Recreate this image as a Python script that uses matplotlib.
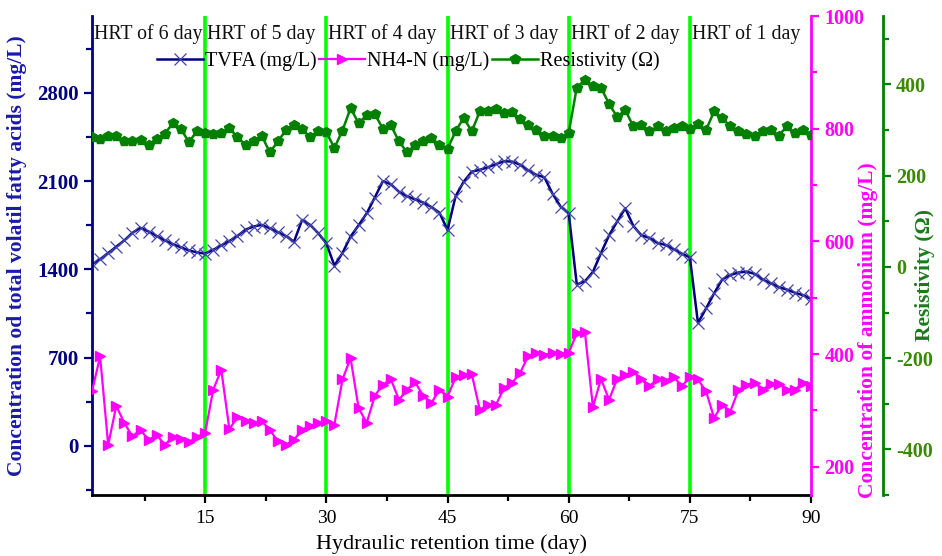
import matplotlib
matplotlib.use('Agg')
import matplotlib.pyplot as plt
from matplotlib.ticker import MultipleLocator

plt.rcParams['font.family'] = ['Liberation Serif', 'DejaVu Serif']
plt.rcParams['axes.unicode_minus'] = False

# hydraulic retention time (day)
days = list(range(1, 91))

tvfa = [1440, 1480, 1530, 1580, 1630, 1690, 1730, 1700, 1665, 1630,
        1600, 1575, 1550, 1535, 1525, 1555, 1590, 1625, 1665, 1715,
        1740, 1753, 1726, 1695, 1665, 1620, 1792, 1753, 1687, 1607,
        1430, 1530, 1660, 1750, 1845, 1970, 2100, 2075, 2015, 1980,
        1955, 1930, 1895, 1850, 1713, 1980, 2095, 2175, 2190, 2210,
        2235, 2258, 2255, 2230, 2185, 2150, 2130, 2000, 1898, 1845,
        1280, 1305, 1380, 1530, 1670, 1780, 1885, 1745, 1670, 1650,
        1610, 1594, 1560, 1525, 1495, 975, 1090, 1210, 1320, 1355,
        1375, 1382, 1365, 1320, 1290, 1260, 1240, 1215, 1195, 1166]

nh4 = [334, 396, 239, 308, 278, 254, 266, 247, 257, 239,
       253, 250, 244, 253, 260, 337, 372, 267, 288, 281,
       277, 281, 266, 245, 239, 248, 266, 273, 277, 281,
       275, 355, 393, 304, 278, 326, 346, 355, 319, 337,
       350, 326, 313, 337, 324, 359, 363, 365, 301, 310,
       310, 340, 349, 367, 397, 402, 399, 402, 401, 402,
       437, 440, 306, 356, 319, 356, 363, 369, 355, 343,
       356, 353, 360, 343, 359, 355, 334, 287, 310, 298,
       336, 346, 349, 337, 347, 347, 337, 337, 349, 343]

resist = [284, 281, 286, 286, 275, 275, 279, 268, 281, 292,
          315, 303, 273, 299, 294, 292, 293, 305, 284, 268,
          275, 288, 251, 275, 300, 312, 303, 284, 299, 295,
          261, 299, 348, 315, 333, 335, 303, 310, 275, 251,
          268, 277, 283, 268, 259, 297, 327, 297, 341, 341,
          346, 337, 340, 324, 310, 300, 288, 286, 282, 294,
          393, 410, 397, 393, 357, 329, 344, 308, 312, 297,
          308, 299, 305, 308, 303, 313, 300, 341, 327, 308,
          297, 292, 286, 299, 301, 288, 308, 294, 301, 290]

hrt_starts = [1, 15, 30, 45, 60, 75]
hrt_labels = ['HRT of 6 day', 'HRT of 5 day', 'HRT of 4 day',
              'HRT of 3 day', 'HRT of 2 day', 'HRT of 1 day']

navy = '#000080'
blue_lbl = '#1a1aa8'
magenta = '#FF00FF'
green = '#008000'
green_tk = '#3a8a00'

fig = plt.figure(figsize=(9.42, 5.56), dpi=100)
ax = fig.add_axes([0.0977, 0.1097, 0.7633, 0.8615])
ax2 = ax.twinx()
ax3 = ax.twinx()

# phase separators
for d in hrt_starts[1:]:
    ax.axvline(d, color='#00FF00', lw=2.6, zorder=0)

l1, = ax.plot(days, tvfa, color=navy, lw=1.8, marker='x', ms=8,
              mec='#4444aa', mew=0.9, label='TVFA (mg/L)')
l2, = ax2.plot(days, nh4, color=magenta, lw=1.6, marker='>', ms=7,
               label='NH4-N (mg/L)')
l3, = ax3.plot(days, resist, color=green, lw=1.8, marker='p', ms=7,
               label='Resistivity (\u03a9)')

ax.set_xlim(1, 90)
ax.set_ylim(-390, 3410)
ax2.set_ylim(150, 1000)
ax3.set_ylim(-500, 550)

ax.xaxis.set_major_locator(MultipleLocator(15))
ax.xaxis.set_minor_locator(MultipleLocator(7.5))
ax.yaxis.set_major_locator(MultipleLocator(700))
ax.yaxis.set_minor_locator(MultipleLocator(350))
ax2.yaxis.set_major_locator(MultipleLocator(200))
ax2.yaxis.set_minor_locator(MultipleLocator(100))
ax3.yaxis.set_major_locator(MultipleLocator(200))
ax3.yaxis.set_minor_locator(MultipleLocator(100))

for a in (ax, ax2, ax3):
    a.spines['top'].set_visible(False)
ax.spines['right'].set_visible(False)
ax2.spines['left'].set_visible(False)
ax3.spines['left'].set_visible(False)
ax3.spines['bottom'].set_visible(False)
ax2.spines['bottom'].set_visible(False)
ax3.spines['right'].set_position(('axes', 1.1))

ax.spines['left'].set_color(navy)
ax.spines['left'].set_linewidth(2)
ax.spines['bottom'].set_color('black')
ax.spines['bottom'].set_linewidth(2)
ax2.spines['right'].set_color(magenta)
ax2.spines['right'].set_linewidth(2)
ax3.spines['right'].set_color(green)
ax3.spines['right'].set_linewidth(2)

ax.tick_params(axis='x', which='both', direction='out', width=1.6, colors='black', labelsize=14, pad=5)
ax.tick_params(axis='x', which='major', length=6)
ax.tick_params(axis='x', which='minor', length=4)
ax.tick_params(axis='y', which='both', direction='out', width=1.6, color=navy, labelcolor=navy, labelsize=15)
ax.tick_params(axis='y', which='major', length=6)
ax.tick_params(axis='y', which='minor', length=4)
ax2.tick_params(axis='y', which='both', direction='out', width=1.6, color=magenta, labelcolor=magenta, labelsize=14.5)
ax2.tick_params(axis='y', which='major', length=6)
ax2.tick_params(axis='y', which='minor', length=4)
ax3.tick_params(axis='y', which='both', direction='out', width=1.6, color=green, labelcolor=green_tk, labelsize=14.5)
ax3.tick_params(axis='y', which='major', length=6)
ax3.tick_params(axis='y', which='minor', length=4)

for t in ax.get_yticklabels() + ax2.get_yticklabels() + ax3.get_yticklabels():
    t.set_fontweight('bold')

ax.set_xlabel('Hydraulic retention time (day)', fontsize=16, labelpad=5)
ax.set_ylabel('Concentration od total volatil fatty acids (mg/L)', fontsize=15.5,
              fontweight='bold', color=blue_lbl)
ax.yaxis.set_label_coords(-0.090, 0.5)
ax2.set_ylabel('Concentration of ammonium (mg/L)', fontsize=15.5,
               fontweight='bold', color=magenta, rotation=90)
ax2.yaxis.set_label_coords(1.065, 0.344)
ax3.set_ylabel('Resistivity (\u03a9)', fontsize=15.5, fontweight='bold',
               color='#1a7a1a', rotation=90)
ax3.yaxis.set_label_coords(1.145, 0.459)

trans = ax.get_xaxis_transform()
for d, s in zip(hrt_starts, hrt_labels):
    ax.text(d + 0.25, 0.962, s, transform=trans, fontsize=14.3,
            ha='left', va='center', color='#111111')

ax3.legend(handles=[l1, l2, l3], loc='center', bbox_to_anchor=(0.44, 0.905),
           ncol=3, frameon=False, fontsize=14.5, handlelength=2.3,
           handletextpad=0.1, columnspacing=0.1, borderpad=0)

fig.savefig('out.png', dpi=100)
